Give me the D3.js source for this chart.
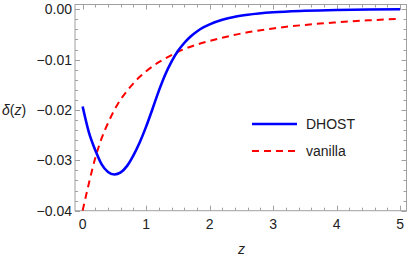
<!DOCTYPE html>
<html>
<head>
<meta charset="utf-8">
<script src="https://cdn.jsdelivr.net/npm/d3@7"></script>
<style>
  body { margin: 0; background: #fff; }
  text { font-family: "Liberation Sans", Arial, sans-serif; }
</style>
</head>
<body>
<script>
// values
var zGrid = [0, 0.1, 0.2, 0.3, 0.4, 0.5, 0.6, 0.7, 0.8, 0.9, 1.0, 1.1, 1.2, 1.3, 1.4, 1.5, 1.6, 1.7, 1.8, 1.9, 2.0, 2.2, 2.4, 2.6, 3.0, 3.5, 4.0, 4.5, 5.0];
var dhost = [-0.0193, -0.0245, -0.0280, -0.0308, -0.0323, -0.0328, -0.0324, -0.0311, -0.0290, -0.0264, -0.0233, -0.0198, -0.0162, -0.0130, -0.0104, -0.0083, -0.0067, -0.0054, -0.0044, -0.0036, -0.0030, -0.0021, -0.0015, -0.0011, -0.0006, -0.0003, -0.00013, -0.00005, 0];

var zRed = [0, 0.1, 0.2, 0.3, 0.4, 0.5, 0.6, 0.7, 0.8, 0.9, 1.0, 1.2, 1.4, 1.6, 1.8, 2.0, 2.5, 3.0, 3.5, 4.0, 4.5, 5.0];
var vanilla = [-0.0400, -0.0345, -0.0295, -0.0256, -0.0226, -0.0200, -0.0179, -0.0162, -0.0147, -0.0134, -0.0123, -0.0105, -0.0091, -0.0079, -0.0070, -0.0063, -0.0048, -0.0038, -0.0031, -0.0026, -0.0022, -0.0019];

var xTicks = [0, 1, 2, 3, 4, 5];
var yTicks = [0, -0.01, -0.02, -0.03, -0.04];
var seriesNames = ["DHOST", "vanilla"];

var width = 409, height = 260;
var frame = {left: 75, right: 406.5, top: 4.5, bottom: 210.7};

var x = d3.scaleLinear().domain([-0.12, 5.1]).range([frame.left, frame.right]);
var y = d3.scaleLinear().domain([-0.04, 0.00095]).range([frame.bottom, frame.top]);

var svg = d3.select("body").append("svg")
  .attr("width", width)
  .attr("height", height);

var frameColor = "#a0a0a0";
var minorX = d3.range(0, 5.01, 0.2).filter(function(d) { return Math.abs(d - Math.round(d)) > 1e-6; });
var minorY = d3.range(-0.04, 0.0001, 0.002).filter(function(d) { return Math.abs(d * 100 - Math.round(d * 100)) > 1e-6; });

// ticks on all four sides, drawn inward
var ticks = svg.append("g").attr("stroke", frameColor).attr("stroke-width", 1);
function xTick(v, len) {
  var px = Math.round(x(v)) + 0.5;
  ticks.append("line").attr("x1", px).attr("x2", px).attr("y1", frame.bottom).attr("y2", frame.bottom - len);
  ticks.append("line").attr("x1", px).attr("x2", px).attr("y1", frame.top).attr("y2", frame.top + len);
}
function yTick(v, len) {
  var py = Math.round(y(v)) + 0.5;
  ticks.append("line").attr("x1", frame.left).attr("x2", frame.left + len).attr("y1", py).attr("y2", py);
  ticks.append("line").attr("x1", frame.right).attr("x2", frame.right - len).attr("y1", py).attr("y2", py);
}
xTicks.forEach(function(d) { xTick(d, 5); });
minorX.forEach(function(d) { xTick(d, 3); });
yTicks.forEach(function(d) { yTick(d, 5); });
minorY.forEach(function(d) { yTick(d, 3); });

svg.append("rect")
  .attr("x", frame.left).attr("y", frame.top)
  .attr("width", frame.right - frame.left).attr("height", frame.bottom - frame.top)
  .attr("fill", "none").attr("stroke", frameColor).attr("stroke-width", 1);

// tick labels
svg.append("g").selectAll("text").data(xTicks).enter().append("text")
  .attr("x", function(d) { return x(d); })
  .attr("y", frame.bottom + 18)
  .attr("text-anchor", "middle")
  .attr("font-size", 14)
  .attr("fill", "#222")
  .text(function(d) { return d; });

svg.append("g").selectAll("text").data(yTicks).enter().append("text")
  .attr("x", frame.left - 3)
  .attr("y", function(d) { return y(d) + 5; })
  .attr("text-anchor", "end")
  .attr("font-size", 14)
  .attr("fill", "#222")
  .text(function(d) { return d === 0 ? "0.00" : "\u2212" + Math.abs(d).toFixed(2); });

// axis labels
var yl = svg.append("text").attr("x", 2).attr("y", 115).attr("font-size", 14).attr("fill", "#222");
yl.append("tspan").attr("font-style", "italic").text("\u03b4");
yl.append("tspan").text("(");
yl.append("tspan").attr("font-style", "italic").text("z");
yl.append("tspan").text(")");

svg.append("text").attr("x", x(2.5)).attr("y", 254).attr("text-anchor", "middle")
  .attr("font-size", 14).attr("font-style", "italic").attr("fill", "#222").text("z");

// curves
svg.append("clipPath").attr("id", "clip").append("rect")
  .attr("x", frame.left).attr("y", frame.top)
  .attr("width", frame.right - frame.left).attr("height", frame.bottom - frame.top);

var line = d3.line()
  .x(function(d) { return x(d[0]); })
  .y(function(d) { return y(d[1]); })
  .curve(d3.curveMonotoneX);

var plot = svg.append("g").attr("clip-path", "url(#clip)");

plot.append("path")
  .datum(d3.zip(zRed, vanilla))
  .attr("d", line)
  .attr("fill", "none")
  .attr("stroke", "#ff0000")
  .attr("stroke-width", 2)
  .attr("stroke-dasharray", "7,5");

plot.append("path")
  .datum(d3.zip(zGrid, dhost))
  .attr("d", line)
  .attr("fill", "none")
  .attr("stroke", "#0000ff")
  .attr("stroke-width", 2.6);

// legend
var legend = svg.append("g");
legend.append("line").attr("x1", 252).attr("x2", 297).attr("y1", 124).attr("y2", 124)
  .attr("stroke", "#0000ff").attr("stroke-width", 2.6);
legend.append("line").attr("x1", 252).attr("x2", 297).attr("y1", 151).attr("y2", 151)
  .attr("stroke", "#ff0000").attr("stroke-width", 2).attr("stroke-dasharray", "7,5");
legend.selectAll("text").data(seriesNames).enter().append("text")
  .attr("x", 306)
  .attr("y", function(d, i) { return 129 + i * 27; })
  .attr("font-size", 14)
  .attr("fill", "#222")
  .text(function(d) { return d; });
</script>
</body>
</html>
